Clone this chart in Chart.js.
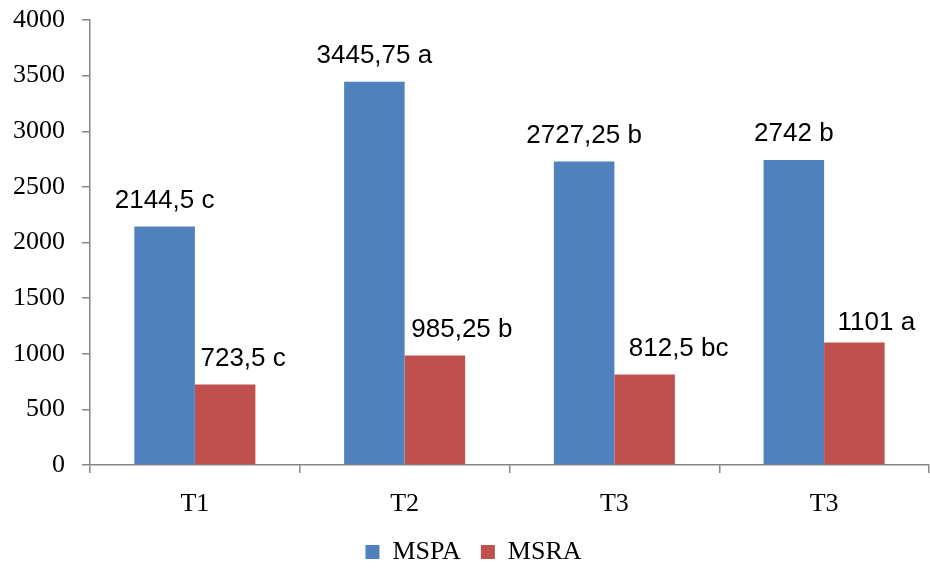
<!DOCTYPE html>
<html>
<head>
<meta charset="utf-8">
<script src="https://cdn.jsdelivr.net/npm/chart.js@4/dist/chart.umd.min.js"></script>
<style>
  html, body { margin: 0; padding: 0; background: #ffffff; }
  #wrap { width: 930px; height: 569px; position: relative; }
</style>
</head>
<body>
<div id="wrap"><canvas id="chart" width="930" height="569"></canvas></div>
<script>
// Treatments and measured dry mass per treatment
const categories = ['T1', 'T2', 'T3', 'T3'];
const mspaValues = [2144.5, 3445.75, 2727.25, 2742];
const msraValues = [723.5, 985.25, 812.5, 1101];
// Mean-separation letters shown after each value
const mspaLetters = ['c', 'a', 'b', 'b'];
const msraLetters = ['c', 'b', 'bc', 'a'];
const yTicks = { min: 0, max: 4000, step: 500 };

// Label placement tweaks (pixels) per bar, by dataset
const labelNudge = [
  { dx: [0, 0, 0, 0], dy: [0, 0, 0, 0] },
  { dx: [18, 27, 34, 22], dy: [0, 0, 0, 6] }
];
const letterSets = [mspaLetters, msraLetters];

const fmt = v => String(v).replace('.', ',');

const valueLabels = {
  id: 'valueLabels',
  afterDatasetsDraw(chart) {
    const ctx = chart.ctx;
    ctx.save();
    ctx.font = '26px "Liberation Sans", Arial, sans-serif';
    ctx.fillStyle = '#000000';
    ctx.textAlign = 'center';
    ctx.textBaseline = 'middle';
    chart.data.datasets.forEach((ds, di) => {
      const meta = chart.getDatasetMeta(di);
      meta.data.forEach((el, i) => {
        const text = fmt(ds.data[i]) + ' ' + letterSets[di][i];
        const x = el.x + labelNudge[di].dx[i];
        const y = el.y - 26 + labelNudge[di].dy[i];
        ctx.fillText(text, x, y);
      });
    });
    ctx.restore();
  }
};

// Centre the legend under the plot area rather than the whole canvas
const legendShift = {
  id: 'legendShift',
  afterLayout(chart) {
    if (chart.legend) {
      chart.legend.left += 18;
    }
  }
};

const axisGrey = '#868686';
const serif = '"Liberation Serif", "Times New Roman", serif';

new Chart(document.getElementById('chart'), {
  type: 'bar',
  data: {
    labels: categories,
    datasets: [
      {
        label: 'MSPA',
        data: mspaValues,
        backgroundColor: '#4F81BD',
        borderWidth: 0,
        categoryPercentage: 0.577,
        barPercentage: 1.0
      },
      {
        label: 'MSRA',
        data: msraValues,
        backgroundColor: '#C0504D',
        borderWidth: 0,
        categoryPercentage: 0.577,
        barPercentage: 1.0
      }
    ]
  },
  options: {
    responsive: false,
    animation: false,
    layout: { padding: { top: 20, right: 1, left: 0, bottom: -6 } },
    plugins: {
      legend: {
        position: 'bottom',
        labels: {
          font: { family: serif, size: 26 },
          color: '#000000',
          boxWidth: 14,
          boxHeight: 14,
          padding: 20
        }
      },
      tooltip: { enabled: false }
    },
    scales: {
      x: {
        grid: {
          offset: true,
          drawOnChartArea: false,
          drawTicks: true,
          tickLength: 8,
          color: axisGrey,
          lineWidth: 1.5
        },
        border: { display: true, color: axisGrey, width: 1.5 },
        ticks: {
          font: { family: serif, size: 26 },
          color: '#000000',
          padding: 16
        },
        afterFit(scale) { scale.height = 54; }
      },
      y: {
        min: yTicks.min,
        max: yTicks.max,
        grid: {
          drawOnChartArea: false,
          drawTicks: true,
          tickLength: 8,
          color: axisGrey,
          lineWidth: 1.5
        },
        border: { display: true, color: axisGrey, width: 1.5 },
        ticks: {
          stepSize: yTicks.step,
          font: { family: serif, size: 26 },
          color: '#000000',
          padding: 17,
          callback: v => String(v)
        },
        afterFit(scale) {
          scale.width = 90;
          scale.paddingTop = 0;
          scale.paddingBottom = 0;
        }
      }
    }
  },
  plugins: [valueLabels, legendShift]
});
</script>
</body>
</html>
